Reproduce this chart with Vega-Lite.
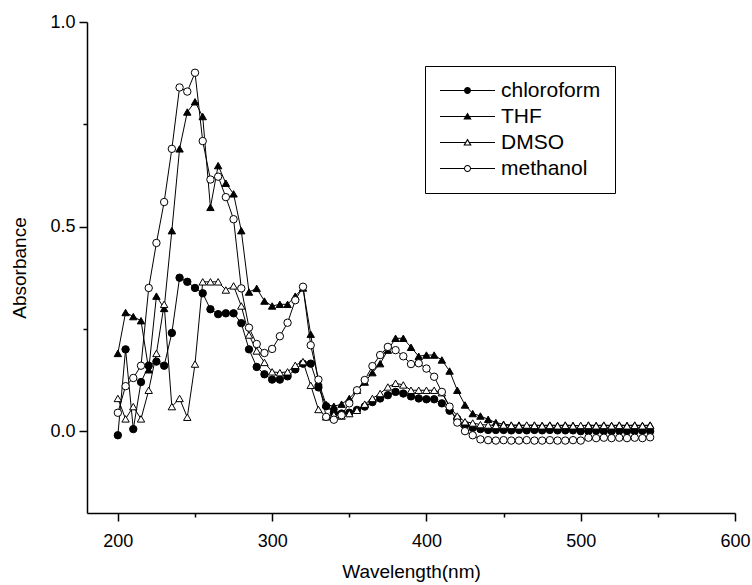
{
  "$schema": "https://vega.github.io/schema/vega-lite/v6.json",
  "width": 648,
  "height": 491,
  "autosize": {"type": "none"},
  "padding": {"left": 87, "top": 22, "right": 17, "bottom": 72},
  "background": "white",
  "config": {"view": {"stroke": null}, "font": "Liberation Sans"},
  "resolve": {"scale": {"shape": "independent"}},
  "data": {"values": [
    {"s":"chloroform","x":200,"y":-0.01},{"s":"chloroform","x":205,"y":0.2},{"s":"chloroform","x":210,"y":0.005},{"s":"chloroform","x":215,"y":0.12},{"s":"chloroform","x":220,"y":0.16},{"s":"chloroform","x":225,"y":0.17},{"s":"chloroform","x":230,"y":0.16},{"s":"chloroform","x":235,"y":0.24},{"s":"chloroform","x":240,"y":0.375},{"s":"chloroform","x":245,"y":0.365},
    {"s":"chloroform","x":250,"y":0.35},{"s":"chloroform","x":255,"y":0.337},{"s":"chloroform","x":260,"y":0.298},{"s":"chloroform","x":265,"y":0.286},{"s":"chloroform","x":270,"y":0.288},{"s":"chloroform","x":275,"y":0.288},{"s":"chloroform","x":280,"y":0.264},{"s":"chloroform","x":285,"y":0.2},{"s":"chloroform","x":290,"y":0.157},{"s":"chloroform","x":295,"y":0.139},
    {"s":"chloroform","x":300,"y":0.126},{"s":"chloroform","x":305,"y":0.126},{"s":"chloroform","x":310,"y":0.134},{"s":"chloroform","x":315,"y":0.151},{"s":"chloroform","x":320,"y":0.165},{"s":"chloroform","x":325,"y":0.165},{"s":"chloroform","x":330,"y":0.107},{"s":"chloroform","x":335,"y":0.061},{"s":"chloroform","x":340,"y":0.045},{"s":"chloroform","x":345,"y":0.043},
    {"s":"chloroform","x":350,"y":0.045},{"s":"chloroform","x":355,"y":0.052},{"s":"chloroform","x":360,"y":0.06},{"s":"chloroform","x":365,"y":0.071},{"s":"chloroform","x":370,"y":0.08},{"s":"chloroform","x":375,"y":0.088},{"s":"chloroform","x":380,"y":0.096},{"s":"chloroform","x":385,"y":0.092},{"s":"chloroform","x":390,"y":0.085},{"s":"chloroform","x":395,"y":0.08},
    {"s":"chloroform","x":400,"y":0.078},{"s":"chloroform","x":405,"y":0.078},{"s":"chloroform","x":410,"y":0.068},{"s":"chloroform","x":415,"y":0.05},{"s":"chloroform","x":420,"y":0.03},{"s":"chloroform","x":425,"y":0.015},{"s":"chloroform","x":430,"y":0.008},{"s":"chloroform","x":435,"y":0.005},{"s":"chloroform","x":440,"y":0.003},{"s":"chloroform","x":445,"y":0.003},
    {"s":"chloroform","x":450,"y":0.003},{"s":"chloroform","x":455,"y":0.002},{"s":"chloroform","x":460,"y":0.003},{"s":"chloroform","x":465,"y":0.002},{"s":"chloroform","x":470,"y":0.003},{"s":"chloroform","x":475,"y":0.002},{"s":"chloroform","x":480,"y":0.003},{"s":"chloroform","x":485,"y":0.002},{"s":"chloroform","x":490,"y":0.002},{"s":"chloroform","x":495,"y":0.002},
    {"s":"chloroform","x":500,"y":0.0},{"s":"chloroform","x":505,"y":0.0},{"s":"chloroform","x":510,"y":0.001},{"s":"chloroform","x":515,"y":0.0},{"s":"chloroform","x":520,"y":0.0},{"s":"chloroform","x":525,"y":0.001},{"s":"chloroform","x":530,"y":0.0},{"s":"chloroform","x":535,"y":0.0},{"s":"chloroform","x":540,"y":0.001},{"s":"chloroform","x":545,"y":0.0},

    {"s":"THF","x":200,"y":0.19},{"s":"THF","x":205,"y":0.29},{"s":"THF","x":210,"y":0.28},{"s":"THF","x":215,"y":0.27},{"s":"THF","x":220,"y":0.15},{"s":"THF","x":225,"y":0.33},{"s":"THF","x":230,"y":0.3},{"s":"THF","x":235,"y":0.49},{"s":"THF","x":240,"y":0.69},{"s":"THF","x":245,"y":0.78},
    {"s":"THF","x":250,"y":0.805},{"s":"THF","x":255,"y":0.769},{"s":"THF","x":260,"y":0.547},{"s":"THF","x":265,"y":0.649},{"s":"THF","x":270,"y":0.606},{"s":"THF","x":275,"y":0.58},{"s":"THF","x":280,"y":0.49},{"s":"THF","x":285,"y":0.34},{"s":"THF","x":290,"y":0.349},{"s":"THF","x":295,"y":0.318},
    {"s":"THF","x":300,"y":0.306},{"s":"THF","x":305,"y":0.31},{"s":"THF","x":310,"y":0.31},{"s":"THF","x":315,"y":0.33},{"s":"THF","x":320,"y":0.35},{"s":"THF","x":325,"y":0.237},{"s":"THF","x":330,"y":0.12},{"s":"THF","x":335,"y":0.065},{"s":"THF","x":340,"y":0.061},{"s":"THF","x":345,"y":0.066},
    {"s":"THF","x":350,"y":0.08},{"s":"THF","x":355,"y":0.1},{"s":"THF","x":360,"y":0.12},{"s":"THF","x":365,"y":0.143},{"s":"THF","x":370,"y":0.165},{"s":"THF","x":375,"y":0.198},{"s":"THF","x":380,"y":0.227},{"s":"THF","x":385,"y":0.227},{"s":"THF","x":390,"y":0.205},{"s":"THF","x":395,"y":0.183},
    {"s":"THF","x":400,"y":0.186},{"s":"THF","x":405,"y":0.186},{"s":"THF","x":410,"y":0.174},{"s":"THF","x":415,"y":0.147},{"s":"THF","x":420,"y":0.1},{"s":"THF","x":425,"y":0.064},{"s":"THF","x":430,"y":0.043},{"s":"THF","x":435,"y":0.037},{"s":"THF","x":440,"y":0.029},{"s":"THF","x":445,"y":0.021},
    {"s":"THF","x":450,"y":0.017},{"s":"THF","x":455,"y":0.015},{"s":"THF","x":460,"y":0.015},{"s":"THF","x":465,"y":0.014},{"s":"THF","x":470,"y":0.015},{"s":"THF","x":475,"y":0.014},{"s":"THF","x":480,"y":0.015},{"s":"THF","x":485,"y":0.014},{"s":"THF","x":490,"y":0.015},{"s":"THF","x":495,"y":0.014},
    {"s":"THF","x":500,"y":0.013},{"s":"THF","x":505,"y":0.015},{"s":"THF","x":510,"y":0.014},{"s":"THF","x":515,"y":0.015},{"s":"THF","x":520,"y":0.014},{"s":"THF","x":525,"y":0.015},{"s":"THF","x":530,"y":0.014},{"s":"THF","x":535,"y":0.015},{"s":"THF","x":540,"y":0.014},{"s":"THF","x":545,"y":0.015},

    {"s":"DMSO","x":200,"y":0.08},{"s":"DMSO","x":205,"y":0.03},{"s":"DMSO","x":210,"y":0.06},{"s":"DMSO","x":215,"y":0.03},{"s":"DMSO","x":220,"y":0.1},{"s":"DMSO","x":225,"y":0.19},{"s":"DMSO","x":230,"y":0.31},{"s":"DMSO","x":235,"y":0.06},{"s":"DMSO","x":240,"y":0.08},{"s":"DMSO","x":245,"y":0.034},
    {"s":"DMSO","x":250,"y":0.164},{"s":"DMSO","x":255,"y":0.365},{"s":"DMSO","x":260,"y":0.365},{"s":"DMSO","x":265,"y":0.365},{"s":"DMSO","x":270,"y":0.345},{"s":"DMSO","x":275,"y":0.355},{"s":"DMSO","x":280,"y":0.306},{"s":"DMSO","x":285,"y":0.235},{"s":"DMSO","x":290,"y":0.196},{"s":"DMSO","x":295,"y":0.168},
    {"s":"DMSO","x":300,"y":0.145},{"s":"DMSO","x":305,"y":0.143},{"s":"DMSO","x":310,"y":0.145},{"s":"DMSO","x":315,"y":0.161},{"s":"DMSO","x":320,"y":0.17},{"s":"DMSO","x":325,"y":0.112},{"s":"DMSO","x":330,"y":0.053},{"s":"DMSO","x":335,"y":0.035},{"s":"DMSO","x":340,"y":0.04},{"s":"DMSO","x":345,"y":0.037},
    {"s":"DMSO","x":350,"y":0.043},{"s":"DMSO","x":355,"y":0.051},{"s":"DMSO","x":360,"y":0.066},{"s":"DMSO","x":365,"y":0.08},{"s":"DMSO","x":370,"y":0.092},{"s":"DMSO","x":375,"y":0.108},{"s":"DMSO","x":380,"y":0.117},{"s":"DMSO","x":385,"y":0.113},{"s":"DMSO","x":390,"y":0.1},{"s":"DMSO","x":395,"y":0.1},
    {"s":"DMSO","x":400,"y":0.1},{"s":"DMSO","x":405,"y":0.1},{"s":"DMSO","x":410,"y":0.094},{"s":"DMSO","x":415,"y":0.06},{"s":"DMSO","x":420,"y":0.037},{"s":"DMSO","x":425,"y":0.023},{"s":"DMSO","x":430,"y":0.02},{"s":"DMSO","x":435,"y":0.016},{"s":"DMSO","x":440,"y":0.015},{"s":"DMSO","x":445,"y":0.014},
    {"s":"DMSO","x":450,"y":0.015},{"s":"DMSO","x":455,"y":0.014},{"s":"DMSO","x":460,"y":0.013},{"s":"DMSO","x":465,"y":0.015},{"s":"DMSO","x":470,"y":0.014},{"s":"DMSO","x":475,"y":0.013},{"s":"DMSO","x":480,"y":0.014},{"s":"DMSO","x":485,"y":0.013},{"s":"DMSO","x":490,"y":0.014},{"s":"DMSO","x":495,"y":0.013},
    {"s":"DMSO","x":500,"y":0.014},{"s":"DMSO","x":505,"y":0.014},{"s":"DMSO","x":510,"y":0.013},{"s":"DMSO","x":515,"y":0.014},{"s":"DMSO","x":520,"y":0.013},{"s":"DMSO","x":525,"y":0.014},{"s":"DMSO","x":530,"y":0.013},{"s":"DMSO","x":535,"y":0.014},{"s":"DMSO","x":540,"y":0.013},{"s":"DMSO","x":545,"y":0.014},

    {"s":"methanol","x":200,"y":0.045},{"s":"methanol","x":205,"y":0.11},{"s":"methanol","x":210,"y":0.13},{"s":"methanol","x":215,"y":0.16},{"s":"methanol","x":220,"y":0.35},{"s":"methanol","x":225,"y":0.46},{"s":"methanol","x":230,"y":0.56},{"s":"methanol","x":235,"y":0.69},{"s":"methanol","x":240,"y":0.84},{"s":"methanol","x":245,"y":0.83},
    {"s":"methanol","x":250,"y":0.876},{"s":"methanol","x":255,"y":0.709},{"s":"methanol","x":260,"y":0.615},{"s":"methanol","x":265,"y":0.622},{"s":"methanol","x":270,"y":0.572},{"s":"methanol","x":275,"y":0.518},{"s":"methanol","x":280,"y":0.349},{"s":"methanol","x":285,"y":0.253},{"s":"methanol","x":290,"y":0.213},{"s":"methanol","x":295,"y":0.191},
    {"s":"methanol","x":300,"y":0.201},{"s":"methanol","x":305,"y":0.232},{"s":"methanol","x":310,"y":0.265},{"s":"methanol","x":315,"y":0.32},{"s":"methanol","x":320,"y":0.353},{"s":"methanol","x":325,"y":0.21},{"s":"methanol","x":330,"y":0.126},{"s":"methanol","x":335,"y":0.035},{"s":"methanol","x":340,"y":0.028},{"s":"methanol","x":345,"y":0.039},
    {"s":"methanol","x":350,"y":0.068},{"s":"methanol","x":355,"y":0.1},{"s":"methanol","x":360,"y":0.125},{"s":"methanol","x":365,"y":0.159},{"s":"methanol","x":370,"y":0.186},{"s":"methanol","x":375,"y":0.206},{"s":"methanol","x":380,"y":0.198},{"s":"methanol","x":385,"y":0.183},{"s":"methanol","x":390,"y":0.164},{"s":"methanol","x":395,"y":0.166},
    {"s":"methanol","x":400,"y":0.153},{"s":"methanol","x":405,"y":0.133},{"s":"methanol","x":410,"y":0.096},{"s":"methanol","x":415,"y":0.06},{"s":"methanol","x":420,"y":0.021},{"s":"methanol","x":425,"y":0.0},{"s":"methanol","x":430,"y":-0.01},{"s":"methanol","x":435,"y":-0.02},{"s":"methanol","x":440,"y":-0.022},{"s":"methanol","x":445,"y":-0.023},
    {"s":"methanol","x":450,"y":-0.022},{"s":"methanol","x":455,"y":-0.023},{"s":"methanol","x":460,"y":-0.023},{"s":"methanol","x":465,"y":-0.022},{"s":"methanol","x":470,"y":-0.023},{"s":"methanol","x":475,"y":-0.023},{"s":"methanol","x":480,"y":-0.022},{"s":"methanol","x":485,"y":-0.023},{"s":"methanol","x":490,"y":-0.023},{"s":"methanol","x":495,"y":-0.022},
    {"s":"methanol","x":500,"y":-0.023},{"s":"methanol","x":505,"y":-0.016},{"s":"methanol","x":510,"y":-0.017},{"s":"methanol","x":515,"y":-0.016},{"s":"methanol","x":520,"y":-0.017},{"s":"methanol","x":525,"y":-0.016},{"s":"methanol","x":530,"y":-0.017},{"s":"methanol","x":535,"y":-0.016},{"s":"methanol","x":540,"y":-0.017},{"s":"methanol","x":545,"y":-0.015}
  ]},
  "encoding": {
    "x": {
      "field": "x", "type": "quantitative",
      "scale": {"domain": [180, 600], "nice": false, "zero": false},
      "axis": {
        "title": "Wavelength(nm)",
        "values": [200, 250, 300, 350, 400, 450, 500, 550, 600],
        "labelExpr": "datum.value % 100 === 0 ? datum.label : ''",
        "format": "d",
        "grid": false,
        "domainColor": "black", "domainWidth": 1.5,
        "tickColor": "black", "tickWidth": 1.5,
        "tickSize": {"condition": {"test": "datum.value % 100 === 0", "value": 8}, "value": 4},
        "labelFont": "Liberation Sans", "labelFontSize": 18, "labelColor": "black", "labelPadding": 11,
        "labelFlush": false, "labelOverlap": false,
        "titleFont": "Liberation Sans", "titleFontSize": 19, "titleFontWeight": "normal", "titleColor": "black", "titlePadding": 12
      }
    },
    "y": {
      "field": "y", "type": "quantitative",
      "scale": {"domain": [-0.2, 1.0], "nice": false, "zero": false},
      "axis": {
        "title": "Absorbance",
        "values": [0, 0.25, 0.5, 0.75, 1.0],
        "labelExpr": "datum.value % 0.5 === 0 ? format(datum.value, '.1f') : ''",
        "grid": false,
        "domainColor": "black", "domainWidth": 1.5,
        "tickColor": "black", "tickWidth": 1.5,
        "tickSize": {"condition": {"test": "datum.value % 0.5 === 0", "value": 8}, "value": 4},
        "labelFont": "Liberation Sans", "labelFontSize": 18, "labelColor": "black", "labelPadding": 4,
        "labelFlush": false, "labelOverlap": false,
        "titleFont": "Liberation Sans", "titleFontSize": 19, "titleFontWeight": "normal", "titleColor": "black", "titlePadding": 20
      }
    }
  },
  "layer": [
    {
      "mark": {"type": "line", "color": "black", "strokeWidth": 1},
      "encoding": {"detail": {"field": "s"}}
    },
    {
      "mark": {"type": "point", "filled": true, "size": 55, "stroke": "black", "strokeWidth": 1, "opacity": 1},
      "encoding": {
        "shape": {
          "field": "s", "type": "nominal",
          "scale": {"domain": ["chloroform", "THF", "DMSO", "methanol"], "range": ["circle", "triangle-up", "triangle-up", "circle"]},
          "legend": null
        },
        "fill": {
          "field": "s", "type": "nominal",
          "scale": {"domain": ["chloroform", "THF", "DMSO", "methanol"], "range": ["black", "black", "white", "white"]},
          "legend": null
        }
      }
    },
    {
      "mark": {"type": "point", "filled": true, "color": "black", "size": 0, "strokeWidth": 0, "opacity": 1},
      "encoding": {
        "shape": {
          "field": "s", "type": "nominal",
          "scale": {
            "domain": ["chloroform", "THF", "DMSO", "methanol"],
            "range": [
              "M-2.75,-0.05H-0.3V0.05H-2.75Z M0.3,-0.05H2.75V0.05H0.3Z M-0.35,0A0.35,0.35,0,1,1,0.35,0A0.35,0.35,0,1,1,-0.35,0Z",
              "M-2.75,-0.05H-0.2V0.05H-2.75Z M0.2,-0.05H2.75V0.05H0.2Z M0,-0.4L0.42,0.3L-0.42,0.3Z",
              "M-2.75,-0.05H-0.2V0.05H-2.75Z M0.2,-0.05H2.75V0.05H0.2Z M0,-0.4L0.42,0.3L-0.42,0.3Z M0,-0.186L-0.226,0.19L0.226,0.19Z",
              "M-2.75,-0.05H-0.3V0.05H-2.75Z M0.3,-0.05H2.75V0.05H0.3Z M-0.35,0A0.35,0.35,0,1,1,0.35,0A0.35,0.35,0,1,1,-0.35,0Z M-0.25,0A0.25,0.25,0,1,0,0.25,0A0.25,0.25,0,1,0,-0.25,0Z"
            ]
          },
          "legend": {
            "title": null,
            "orient": "none", "legendX": 338, "legendY": 44,
            "padding": 14,
            "fillColor": "white", "strokeColor": "black",
            "labelFont": "Liberation Sans", "labelFontSize": 21, "labelColor": "black",
            "symbolSize": 400, "symbolOffset": 18, "labelOffset": 23,
            "symbolFillColor": "black", "symbolStrokeColor": "transparent", "symbolStrokeWidth": 0, "symbolOpacity": 1,
            "rowPadding": 4
          }
        }
      }
    }
  ]
}
